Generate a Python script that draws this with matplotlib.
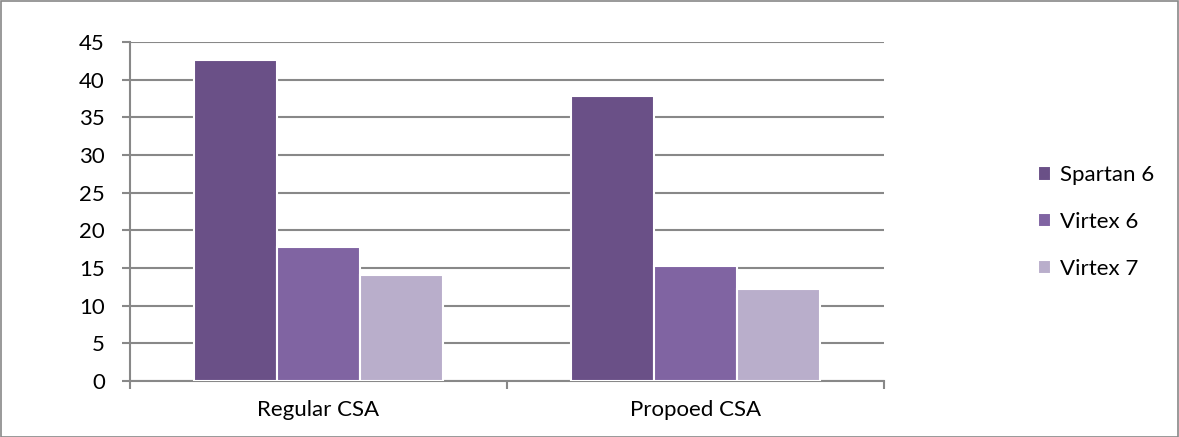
import matplotlib
matplotlib.use("Agg")
import matplotlib.pyplot as plt
import numpy as np
from matplotlib.patches import Rectangle

categories = ["Regular CSA", "Propoed CSA"]
series_names = ["Spartan 6", "Virtex 6", "Virtex 7"]
spartan6 = [42.6, 37.8]
virtex6 = [17.8, 15.2]
virtex7 = [14.1, 12.2]
colors = ["#6A5087", "#8064A2", "#B9AECB"]

plt.rcParams['font.family'] = ['Lato', 'DejaVu Sans']

W, H = 1179, 437
fig = plt.figure(figsize=(W/100, H/100), dpi=100)
ax = fig.add_axes([130/W, 1-381/H, (884-130)/W, (381-42)/H])

values = [spartan6, virtex6, virtex7]
x = np.arange(len(categories))
bw = 0.22
for i, (name, vals, c) in enumerate(zip(series_names, values, colors)):
    ax.bar(x + (i-1)*bw, vals, width=bw, color=c, edgecolor="white",
           linewidth=1.5, label=name, zorder=3)

ax.set_xlim(-0.5, 1.5)
ax.set_ylim(0, 45)
ax.set_yticks(range(0, 46, 5))
ax.yaxis.grid(True, color="#888888", linewidth=1.5, zorder=0)
ax.set_axisbelow(True)
for s in ["top", "right"]:
    ax.spines[s].set_visible(False)
ax.spines["left"].set_color("#888888")
ax.spines["left"].set_linewidth(1.5)
ax.spines["bottom"].set_color("#888888")
ax.spines["bottom"].set_linewidth(1.5)
ax.set_xticks([-0.5, 0.5, 1.5])
ax.set_xticklabels([])
ax.set_xticks(x, minor=True)
ax.set_xticklabels(categories, minor=True)
ax.tick_params(axis="x", which="major", length=6, width=1.5, color="#888888")
ax.tick_params(axis="x", which="minor", length=0, pad=14, labelsize=16)
ax.tick_params(axis="y", length=6, width=1.5, color="#888888", labelsize=16, pad=12)

leg = fig.legend(loc="center left", bbox_to_anchor=(1018/W, 1-222/H),
                 frameon=False, fontsize=16, handlelength=0.6, handleheight=0.6,
                 handletextpad=0.4, labelspacing=1.2)

fig.patches.append(Rectangle((0.5/W, 0.5/H), 1-1.5/W, 1-1.5/H, transform=fig.transFigure,
                             fill=False, edgecolor="#888888", linewidth=1.2))

fig.savefig("out.png", dpi=100)
